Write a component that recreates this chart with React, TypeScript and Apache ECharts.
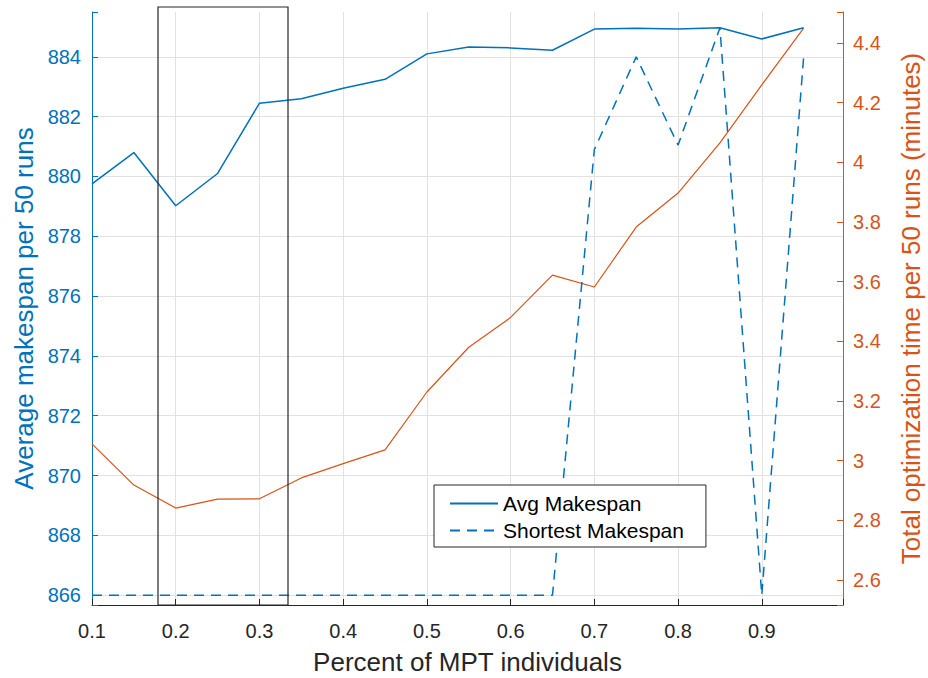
import React, { useEffect, useRef } from 'react';
import * as echarts from 'echarts';

const xValues = [0.1, 0.15, 0.2, 0.25, 0.3, 0.35, 0.4, 0.45, 0.5, 0.55, 0.6, 0.65, 0.7, 0.75, 0.8, 0.85, 0.9, 0.95];
const avgMakespan = [879.75, 880.8, 879.02, 880.1, 882.45, 882.6, 882.95, 883.25, 884.1, 884.33, 884.3, 884.22, 884.93, 884.96, 884.93, 884.97, 884.6, 884.97];
const shortestMakespan = [866, 866, 866, 866, 866, 866, 866, 866, 866, 866, 866, 866, 880.9, 884.0, 881.05, 884.97, 866, 884.0];
const totalTime = [3.056, 2.918, 2.841, 2.871, 2.872, 2.942, 2.99, 3.036, 3.23, 3.38, 3.48, 3.622, 3.582, 3.783, 3.897, 4.065, 4.26, 4.45];

const BLUE = '#0072BD';
const ORANGE = '#D95319';
const DARK = '#262626';
const GRID = '#e2e2e2';
const FONT = '"Liberation Sans", Arial, sans-serif';

export default function App() {
  const ref = useRef<HTMLDivElement>(null);
  useEffect(() => {
    document.body.style.margin = '0';
    const chart = echarts.init(ref.current as HTMLDivElement, null, { renderer: 'svg' });
    const isStep = (v: number, step: number) => Math.abs(v / step - Math.round(v / step)) < 1e-6;
    chart.setOption({
      animation: false,
      textStyle: { fontFamily: FONT },
      grid: { left: 92, right: 85, top: 12, bottom: 73, containLabel: false, outerBoundsMode: 'none' },
      legend: {
        data: ['Avg Makespan', 'Shortest Makespan'],
        orient: 'vertical',
        left: 434,
        top: 485,
        itemWidth: 48,
        itemHeight: 14,
        itemGap: 6,
        itemTextGap: 12,
        padding: [8, 22, 6, 15],
        backgroundColor: '#ffffff',
        borderColor: DARK,
        borderWidth: 1,
        borderRadius: 0,
        itemStyle: { color: 'rgba(0,0,0,0)', borderColor: 'rgba(0,0,0,0)', borderWidth: 0, opacity: 0 },
        textStyle: { fontSize: 21, color: '#000000', fontFamily: FONT },
      },
      xAxis: {
        type: 'value',
        min: 0.1,
        max: 0.997,
        interval: 0.1,
        name: 'Percent of MPT individuals',
        nameLocation: 'middle',
        nameGap: 44,
        nameTextStyle: { fontSize: 26, color: DARK, fontFamily: FONT },
        axisLine: { show: true, lineStyle: { color: DARK, width: 1 } },
        axisTick: { show: true, inside: true, length: 6, lineStyle: { color: DARK } },
        axisLabel: {
          fontSize: 20,
          color: DARK,
          margin: 16,
          formatter: (v: number) => (isStep(v, 0.1) && v < 0.95 ? v.toFixed(1) : ''),
        },
        splitLine: { show: true, showMinLine: false, showMaxLine: false, lineStyle: { color: GRID, width: 1 } },
      },
      yAxis: [
        {
          type: 'value',
          position: 'left',
          min: 865.67,
          max: 885.5,
          splitNumber: 10,
          name: 'Average makespan per 50 runs',
          nameLocation: 'middle',
          nameRotate: 90,
          nameGap: 52,
          nameTextStyle: { fontSize: 26, color: BLUE, fontFamily: FONT },
          axisLine: { show: true, lineStyle: { color: BLUE, width: 1 } },
          axisTick: { show: true, inside: true, length: 6, lineStyle: { color: BLUE } },
          axisLabel: {
            fontSize: 20,
            color: BLUE,
            margin: 11,
            formatter: (v: number) => (isStep(v, 2) ? String(Math.round(v)) : ''),
          },
          splitLine: { show: true, showMinLine: false, showMaxLine: false, lineStyle: { color: GRID, width: 1 } },
        },
        {
          type: 'value',
          position: 'right',
          min: 2.516,
          max: 4.504,
          splitNumber: 10,
          name: 'Total optimization time per 50 runs (minutes)',
          nameLocation: 'middle',
          nameRotate: 90,
          nameGap: 55,
          nameTextStyle: { fontSize: 26, color: ORANGE, fontFamily: FONT },
          axisLine: { show: true, lineStyle: { color: ORANGE, width: 1 } },
          axisTick: { show: true, inside: true, length: 6, lineStyle: { color: ORANGE } },
          axisLabel: {
            fontSize: 20,
            color: ORANGE,
            margin: 10,
            formatter: (v: number) => (isStep(v, 0.2) ? String(Math.round(v * 10) / 10) : ''),
          },
          splitLine: { show: false },
        },
      ],
      graphic: [
        {
          type: 'rect',
          z: 100,
          shape: { x: 158, y: 7, width: 130, height: 598 },
          style: { fill: 'none', stroke: DARK, lineWidth: 1.2 },
        },
      ],
      series: [
        {
          name: 'Total time',
          type: 'line',
          yAxisIndex: 1,
          data: xValues.map((x, i) => [x, totalTime[i]]),
          symbol: 'none',
          lineStyle: { color: ORANGE, width: 1.2 },
          itemStyle: { color: ORANGE },
        },
        {
          name: 'Avg Makespan',
          type: 'line',
          yAxisIndex: 0,
          data: xValues.map((x, i) => [x, avgMakespan[i]]),
          symbol: 'none',
          lineStyle: { color: BLUE, width: 1.5 },
          itemStyle: { color: BLUE },
        },
        {
          name: 'Shortest Makespan',
          type: 'line',
          yAxisIndex: 0,
          data: xValues.map((x, i) => [x, shortestMakespan[i]]),
          symbol: 'none',
          lineStyle: { color: BLUE, width: 1.5, type: [10, 7] },
          itemStyle: { color: BLUE },
        },
      ],
    });
    return () => chart.dispose();
  }, []);
  return <div ref={ref} style={{ width: 928, height: 678 }} />;
}
